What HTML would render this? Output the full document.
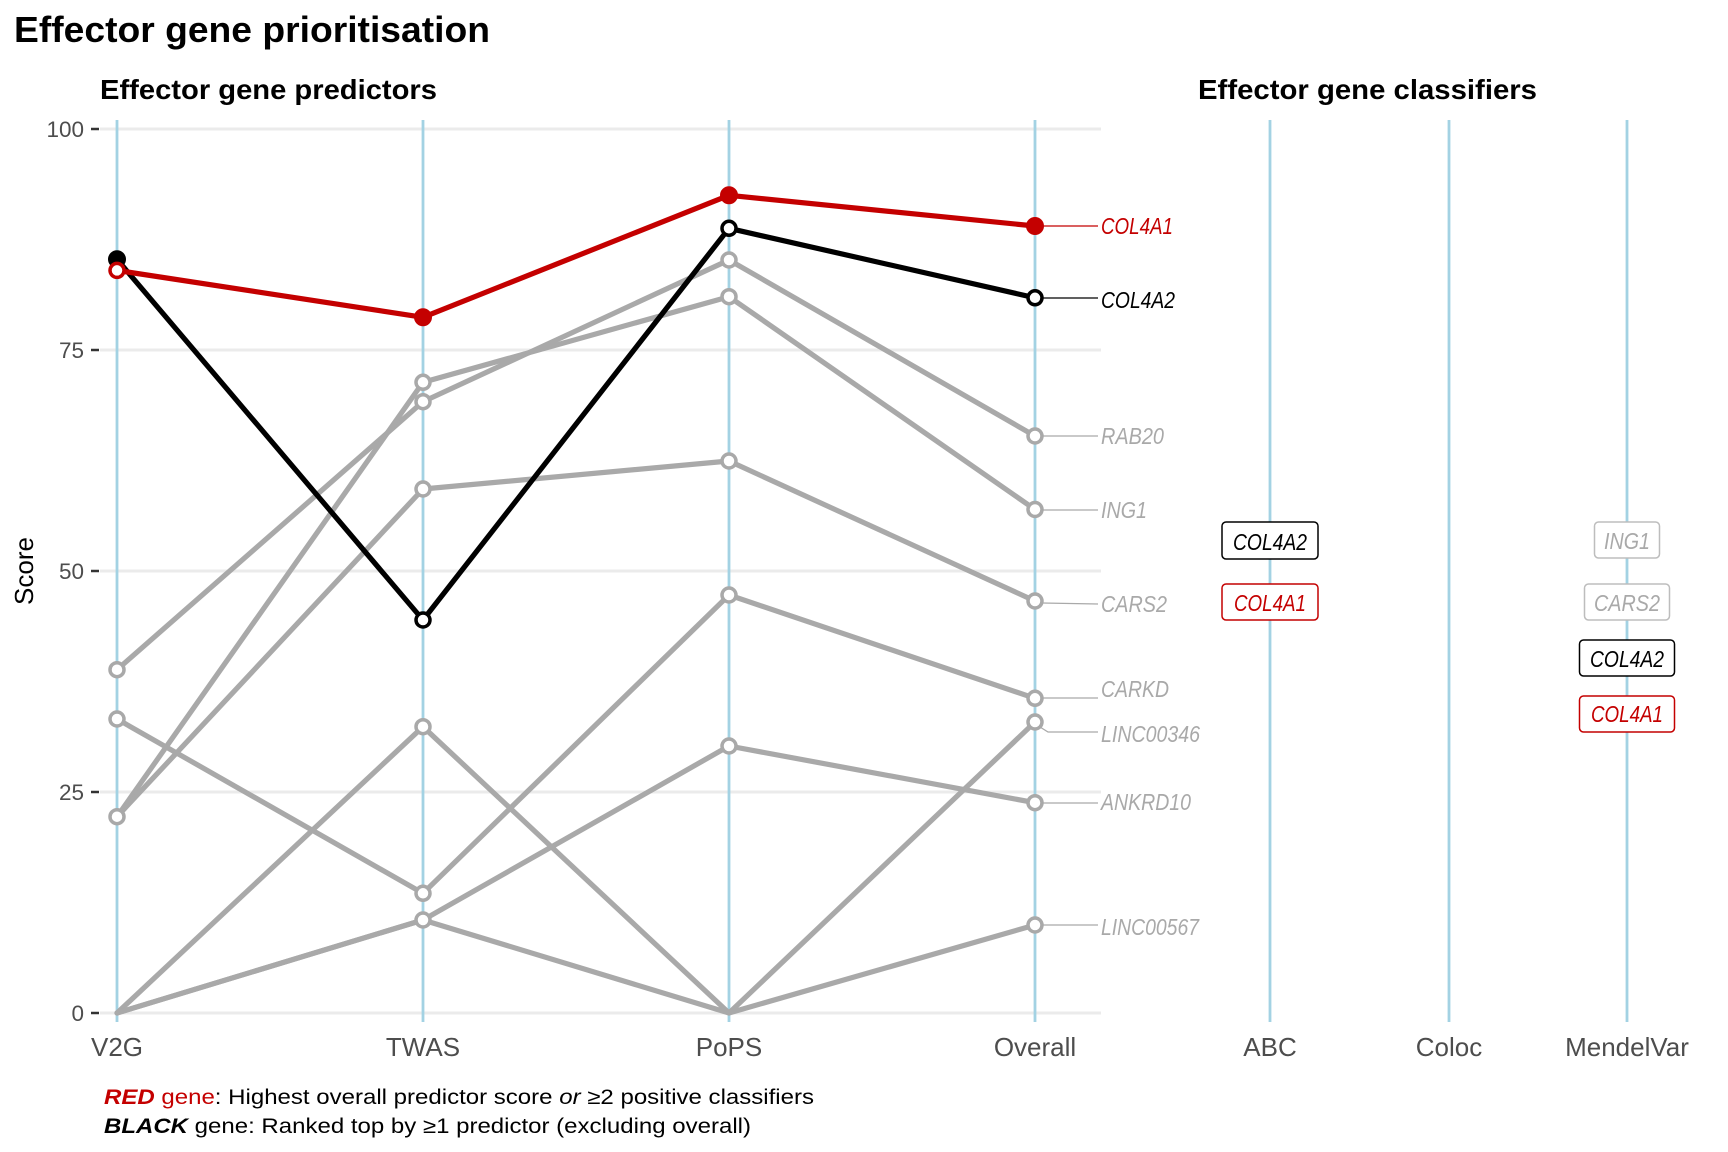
<!DOCTYPE html>
<html>
<head>
<meta charset="utf-8">
<style>
  html, body { margin:0; padding:0; background:#fff; }
  svg { display:block; }
  text { font-family: "Liberation Sans", Arial, sans-serif; }
</style>
</head>
<body>
<svg width="1728" height="1152" viewBox="0 0 1728 1152" xmlns="http://www.w3.org/2000/svg">
  <rect x="0" y="0" width="1728" height="1152" fill="#ffffff"/>

  <!-- Titles -->
  <text x="14" y="42" font-size="36" font-weight="bold" fill="#000" textLength="476" lengthAdjust="spacingAndGlyphs">Effector gene prioritisation</text>
  <text x="100" y="99" font-size="28" font-weight="bold" fill="#000" textLength="337" lengthAdjust="spacingAndGlyphs">Effector gene predictors</text>
  <text x="1205" y="99" font-size="28" font-weight="bold" fill="#000" textLength="339" lengthAdjust="spacingAndGlyphs" transform="translate(-7,0)">Effector gene classifiers</text>

  <!-- Gridlines (predictor panel) -->
  <g stroke="#EBEBEB" stroke-width="3">
    <line x1="100" y1="129" x2="1101" y2="129"/>
    <line x1="100" y1="350" x2="1101" y2="350"/>
    <line x1="100" y1="571" x2="1101" y2="571"/>
    <line x1="100" y1="792" x2="1101" y2="792"/>
    <line x1="100" y1="1013" x2="1101" y2="1013"/>
  </g>

  <!-- Vertical axis lines -->
  <g stroke="#A3D2E3" stroke-width="2.8">
    <line x1="117" y1="120" x2="117" y2="1022"/>
    <line x1="423" y1="120" x2="423" y2="1022"/>
    <line x1="729" y1="120" x2="729" y2="1022"/>
    <line x1="1035" y1="120" x2="1035" y2="1022"/>
    <line x1="1270" y1="120" x2="1270" y2="1022"/>
    <line x1="1449" y1="120" x2="1449" y2="1022"/>
    <line x1="1627" y1="120" x2="1627" y2="1022"/>
  </g>

  <!-- Y axis ticks & labels -->
  <g stroke="#333" stroke-width="2.5">
    <line x1="91" y1="129" x2="99" y2="129"/>
    <line x1="91" y1="350" x2="99" y2="350"/>
    <line x1="91" y1="571" x2="99" y2="571"/>
    <line x1="91" y1="792" x2="99" y2="792"/>
    <line x1="91" y1="1013" x2="99" y2="1013"/>
  </g>
  <g font-size="22.5" fill="#4D4D4D" text-anchor="end">
    <text x="84" y="137">100</text>
    <text x="84" y="358">75</text>
    <text x="84" y="579">50</text>
    <text x="84" y="800">25</text>
    <text x="84" y="1021">0</text>
  </g>
  <text transform="translate(33,571) rotate(-90)" font-size="26" fill="#000" text-anchor="middle">Score</text>

  <!-- X axis labels -->
  <g font-size="26" fill="#4D4D4D" text-anchor="middle">
    <text x="117" y="1056">V2G</text>
    <text x="423" y="1056">TWAS</text>
    <text x="729" y="1056">PoPS</text>
    <text x="1035" y="1056">Overall</text>
    <text x="1270" y="1056">ABC</text>
    <text x="1449" y="1056">Coloc</text>
    <text x="1627" y="1056">MendelVar</text>
  </g>

  <!-- Grey gene lines -->
  <g fill="none" stroke="#A9A9A9" stroke-width="5.2" stroke-linejoin="round" stroke-linecap="round">
    <polyline points="117,669.7 423,401.7 729,260 1035,436"/>
    <polyline points="117,816.7 423,382.3 729,296.7 1035,509.5"/>
    <polyline points="117,816.7 423,489 729,461 1035,601"/>
    <polyline points="117,719 423,893.3 729,595 1035,698.3"/>
    <polyline points="117,1013 423,726.7 729,1013 1035,722"/>
    <polyline points="117,1013 423,920 729,746 1035,802.7"/>
    <polyline points="117,1013 423,920 729,1013 1035,925"/>
  </g>
  <!-- Grey points -->
  <g fill="#fff" stroke="#A9A9A9" stroke-width="3.5">
    <circle cx="117" cy="669.7" r="7"/><circle cx="423" cy="401.7" r="7"/><circle cx="729" cy="260" r="7"/><circle cx="1035" cy="436" r="7"/>
    <circle cx="117" cy="816.7" r="7"/><circle cx="423" cy="382.3" r="7"/><circle cx="729" cy="296.7" r="7"/><circle cx="1035" cy="509.5" r="7"/>
    <circle cx="423" cy="489" r="7"/><circle cx="729" cy="461" r="7"/><circle cx="1035" cy="601" r="7"/>
    <circle cx="117" cy="719" r="7"/><circle cx="423" cy="893.3" r="7"/><circle cx="729" cy="595" r="7"/><circle cx="1035" cy="698.3" r="7"/>
    <circle cx="423" cy="726.7" r="7"/><circle cx="1035" cy="722" r="7"/>
    <circle cx="423" cy="920" r="7"/><circle cx="729" cy="746" r="7"/><circle cx="1035" cy="802.7" r="7"/>
    <circle cx="1035" cy="925" r="7"/>
  </g>

  <!-- Black gene -->
  <polyline points="117,259.3 423,620 729,228.3 1035,297.8" fill="none" stroke="#000" stroke-width="5.2" stroke-linejoin="round"/>
  <circle cx="117" cy="259.3" r="8" fill="#000" stroke="#000" stroke-width="2"/>
  <g fill="#fff" stroke="#000" stroke-width="3.5">
    <circle cx="423" cy="620" r="7"/>
    <circle cx="729" cy="228.3" r="7"/>
    <circle cx="1035" cy="297.8" r="7"/>
  </g>

  <!-- Red gene -->
  <polyline points="117,270.4 423,317.3 729,195.3 1035,226" fill="none" stroke="#C40000" stroke-width="5.2" stroke-linejoin="round"/>
  <circle cx="117" cy="270.4" r="7" fill="#fff" stroke="#C40000" stroke-width="3.5"/>
  <g fill="#C40000" stroke="#C40000" stroke-width="2">
    <circle cx="423" cy="317.3" r="8"/>
    <circle cx="729" cy="195.3" r="8"/>
    <circle cx="1035" cy="226" r="8"/>
  </g>

  <!-- Label connectors -->
  <g fill="none" stroke-width="1.3">
    <line x1="1043" y1="226" x2="1098" y2="226" stroke="#C40000"/>
    <line x1="1042" y1="298" x2="1098" y2="298" stroke="#000"/>
    <line x1="1042" y1="436" x2="1098" y2="436" stroke="#A9A9A9"/>
    <line x1="1042" y1="510" x2="1098" y2="510" stroke="#A9A9A9"/>
    <line x1="1042" y1="603" x2="1098" y2="604" stroke="#A9A9A9"/>
    <line x1="1042" y1="698" x2="1098" y2="698" stroke="#A9A9A9"/>
    <polyline points="1040,727 1048,732 1098,732" stroke="#A9A9A9"/>
    <line x1="1042" y1="803" x2="1098" y2="803" stroke="#A9A9A9"/>
    <line x1="1042" y1="925" x2="1098" y2="925" stroke="#A9A9A9"/>
  </g>

  <!-- Gene labels (Overall) -->
  <g font-size="23.5" font-style="italic">
    <text x="1101" y="234" fill="#C40000" textLength="72" lengthAdjust="spacingAndGlyphs">COL4A1</text>
    <text x="1101" y="308" fill="#000" textLength="74" lengthAdjust="spacingAndGlyphs">COL4A2</text>
    <text x="1101" y="444" fill="#A9A9A9" textLength="63" lengthAdjust="spacingAndGlyphs">RAB20</text>
    <text x="1101" y="518" fill="#A9A9A9" textLength="46" lengthAdjust="spacingAndGlyphs">ING1</text>
    <text x="1101" y="612" fill="#A9A9A9" textLength="66" lengthAdjust="spacingAndGlyphs">CARS2</text>
    <text x="1101" y="697" fill="#A9A9A9" textLength="68" lengthAdjust="spacingAndGlyphs">CARKD</text>
    <text x="1101" y="742" fill="#A9A9A9" textLength="99" lengthAdjust="spacingAndGlyphs">LINC00346</text>
    <text x="1101" y="810" fill="#A9A9A9" textLength="90" lengthAdjust="spacingAndGlyphs">ANKRD10</text>
    <text x="1101" y="935" fill="#A9A9A9" textLength="98" lengthAdjust="spacingAndGlyphs">LINC00567</text>
  </g>

  <!-- Classifier boxes -->
  <g stroke-width="1.5" fill="#fff">
    <rect x="1222" y="522" width="96" height="37" rx="4" stroke="#000"/>
    <rect x="1222" y="584" width="96" height="36" rx="4" stroke="#C40000"/>
    <rect x="1594.5" y="522" width="65" height="36" rx="4" stroke="#BDBDBD"/>
    <rect x="1584.5" y="584" width="85" height="36" rx="4" stroke="#BDBDBD"/>
    <rect x="1579.5" y="640" width="95" height="36" rx="4" stroke="#000"/>
    <rect x="1579.5" y="696" width="95" height="36" rx="4" stroke="#C40000"/>
  </g>
  <g font-size="23.5" font-style="italic" text-anchor="middle">
    <text x="1270" y="550" fill="#000" textLength="74" lengthAdjust="spacingAndGlyphs">COL4A2</text>
    <text x="1270" y="611" fill="#C40000" textLength="72" lengthAdjust="spacingAndGlyphs">COL4A1</text>
    <text x="1627" y="549" fill="#A9A9A9" textLength="46" lengthAdjust="spacingAndGlyphs">ING1</text>
    <text x="1627" y="611" fill="#A9A9A9" textLength="66" lengthAdjust="spacingAndGlyphs">CARS2</text>
    <text x="1627" y="667" fill="#000" textLength="74" lengthAdjust="spacingAndGlyphs">COL4A2</text>
    <text x="1627" y="722" fill="#C40000" textLength="72" lengthAdjust="spacingAndGlyphs">COL4A1</text>
  </g>

  <!-- Footnotes -->
  <text x="104" y="1104" font-size="21" fill="#000" textLength="710" lengthAdjust="spacingAndGlyphs"><tspan fill="#C40000" font-weight="bold" font-style="italic">RED</tspan><tspan fill="#C40000"> gene</tspan>: Highest overall predictor score <tspan font-style="italic">or</tspan> ≥2 positive classifiers</text>
  <text x="104" y="1133" font-size="21" fill="#000" textLength="647" lengthAdjust="spacingAndGlyphs"><tspan font-weight="bold" font-style="italic">BLACK</tspan> gene: Ranked top by ≥1 predictor (excluding overall)</text>
</svg>
</body>
</html>
